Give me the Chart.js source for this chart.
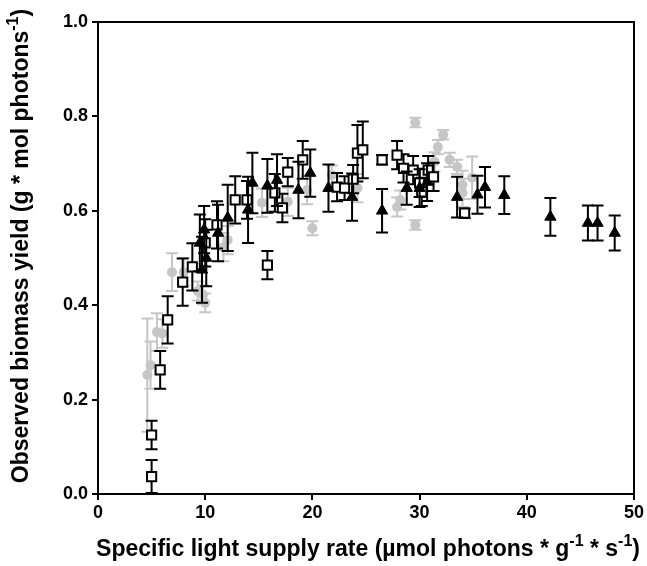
<!DOCTYPE html>
<html>
<head>
<meta charset="utf-8">
<script src="https://cdn.jsdelivr.net/npm/chart.js@4"></script>
<style>
  html, body { margin: 0; padding: 0; background: #fff; }
  #wrap { width: 647px; height: 566px; }
</style>
</head>
<body>
<div id="wrap"><canvas id="yieldChart" width="647" height="566"></canvas></div>
<script>
// black triangles
var triX   = [9.5, 9.7, 9.9, 10.1, 11.2, 12.1, 14.0, 14.4, 15.8, 16.7, 18.7, 19.8, 21.5, 23.7, 26.5, 28.8, 30.0, 30.7, 33.5, 35.4, 36.1, 37.9, 42.2, 45.7, 46.6, 48.2];
var triY   = [0.532, 0.475, 0.56, 0.50, 0.553, 0.585, 0.602, 0.659, 0.653, 0.665, 0.644, 0.68, 0.648, 0.629, 0.60, 0.648, 0.648, 0.661, 0.629, 0.634, 0.65, 0.633, 0.587, 0.574, 0.574, 0.553];
var triErr = [0.06, 0.07, 0.05, 0.06, 0.06, 0.07, 0.07, 0.064, 0.057, 0.055, 0.06, 0.05, 0.05, 0.05, 0.046, 0.035, 0.04, 0.04, 0.043, 0.04, 0.043, 0.04, 0.04, 0.037, 0.037, 0.037];

// open squares
var sqX   = [5.0, 5.0, 5.8, 6.5, 7.9, 8.8, 10.0, 11.1, 12.8, 13.9, 15.8, 16.5, 17.2, 17.7, 19.1, 22.3, 23.0, 23.8, 24.2, 24.7, 26.5, 27.9, 28.5, 29.4, 30.0, 30.2, 30.8, 31.3, 34.2];
var sqY   = [0.037, 0.125, 0.263, 0.369, 0.449, 0.481, 0.532, 0.57, 0.623, 0.623, 0.485, 0.638, 0.606, 0.682, 0.708, 0.65, 0.648, 0.667, 0.722, 0.729, 0.708, 0.718, 0.69, 0.686, 0.659, 0.64, 0.686, 0.672, 0.595];
var sqErr = [0.035, 0.03, 0.04, 0.05, 0.05, 0.05, 0.05, 0.05, 0.05, 0.04, 0.03, 0.04, 0.03, 0.03, 0.04, 0.03, 0.025, 0.03, 0.06, 0.06, 0.01, 0.03, 0.03, 0.03, 0.03, 0.03, 0.03, 0.03, 0.01];

// grey circles
var grayX   = [4.6, 4.9, 5.5, 6.0, 6.9, 8.0, 9.3, 9.8, 10.0, 11.7, 12.1, 15.3, 17.7, 19.5, 20.0, 21.8, 24.2, 27.9, 28.2, 29.6, 29.6, 31.4, 31.7, 32.2, 32.8, 33.5, 34.0, 34.0, 34.9];
var grayY   = [0.252, 0.273, 0.343, 0.34, 0.47, 0.47, 0.43, 0.422, 0.405, 0.523, 0.538, 0.617, 0.619, 0.644, 0.563, 0.676, 0.648, 0.608, 0.623, 0.57, 0.787, 0.704, 0.735, 0.761, 0.708, 0.693, 0.638, 0.655, 0.67];
var grayErr = [0.12, 0.05, 0.04, 0.03, 0.04, 0.03, 0.02, 0.02, 0.02, 0.03, 0.03, 0.03, 0.03, 0.03, 0.015, 0.02, 0.03, 0.02, 0.02, 0.01, 0.01, 0.02, 0.015, 0.01, 0.015, 0.015, 0.03, 0.03, 0.045];

var xTicks = [0, 10, 20, 30, 40, 50];
var yTicks = [0.0, 0.2, 0.4, 0.6, 0.8, 1.0];

function points(xs, ys) {
  return xs.map(function (x, i) { return { x: x, y: ys[i] }; });
}

var errors = [triErr, sqErr, grayErr];
var barColors = ['#000000', '#000000', '#c6c6c6'];
var fontName = '"Liberation Sans", Arial, sans-serif';

// error bars, drawn just before each dataset's markers
var errorBars = {
  id: 'errorBars',
  beforeDatasetDraw: function (chart, args) {
    var i = args.index;
    var ds = chart.data.datasets[i];
    var yScale = chart.scales.y;
    var ctx = chart.ctx;
    ctx.save();
    ctx.strokeStyle = barColors[i];
    ctx.lineWidth = 2;
    args.meta.data.forEach(function (pt, j) {
      var v = ds.data[j].y, e = errors[i][j];
      var top = yScale.getPixelForValue(v + e);
      var bot = yScale.getPixelForValue(v - e);
      ctx.beginPath();
      ctx.moveTo(pt.x, top); ctx.lineTo(pt.x, bot);
      ctx.moveTo(pt.x - 6, top); ctx.lineTo(pt.x + 6, top);
      ctx.moveTo(pt.x - 6, bot); ctx.lineTo(pt.x + 6, bot);
      ctx.stroke();
    });
    ctx.restore();
  }
};

// text with superscripts: parts = [[text, isSup], ...]
function drawRich(ctx, parts, cx, cy, size) {
  var supSize = Math.round(size * 0.68);
  var w = 0;
  parts.forEach(function (p) {
    ctx.font = 'bold ' + (p[1] ? supSize : size) + 'px ' + fontName;
    w += ctx.measureText(p[0]).width;
  });
  var x = cx - w / 2;
  ctx.textBaseline = 'middle';
  ctx.textAlign = 'left';
  parts.forEach(function (p) {
    ctx.font = 'bold ' + (p[1] ? supSize : size) + 'px ' + fontName;
    ctx.fillText(p[0], x, p[1] ? cy - size * 0.38 : cy);
    x += ctx.measureText(p[0]).width;
  });
}

var frameAndTitles = {
  id: 'frameAndTitles',
  beforeDatasetsDraw: function (chart) {
    var a = chart.chartArea, ctx = chart.ctx;
    ctx.save();
    ctx.strokeStyle = '#000';
    ctx.lineWidth = 2;
    ctx.strokeRect(a.left, a.top, a.right - a.left, a.bottom - a.top);
    ctx.restore();
  },
  afterDraw: function (chart) {
    var ctx = chart.ctx;
    ctx.save();
    ctx.fillStyle = '#000';
    drawRich(ctx, [['Specific light supply rate (\u00b5mol photons * g', false], ['-1', true], [' * s', false], ['-1', true], [')', false]],
      368, 550, 23);
    ctx.translate(22, 246);
    ctx.rotate(-Math.PI / 2);
    drawRich(ctx, [['Observed biomass yield (g * mol photons', false], ['-1', true], [')', false]], 0, 0, 23);
    ctx.restore();
  }
};

var tickFont = { family: fontName, size: 18, weight: 'bold' };

var chartYield = document.getElementById('yieldChart').getContext('2d');
var scatterChart = new Chart(chartYield, {
  type: 'scatter',
  data: {
    datasets: [{
        label: 'triangles',
        data: points(triX, triY),
        pointStyle: 'triangle',
        radius: 6.5,
        backgroundColor: '#000000',
        borderColor: '#000000',
        borderWidth: 1
      },
      {
        label: 'squares',
        data: points(sqX, sqY),
        pointStyle: 'rect',
        radius: 6.5,
        backgroundColor: '#ffffff',
        borderColor: '#000000',
        borderWidth: 2
      },
      {
        label: 'circles',
        data: points(grayX, grayY),
        pointStyle: 'circle',
        radius: 5,
        backgroundColor: '#c6c6c6',
        borderColor: '#c6c6c6',
        borderWidth: 0
      }
    ]
  },
  options: {
    responsive: false,
    animation: false,
    layout: { padding: { top: 22, right: 13, left: 0, bottom: 0 } },
    plugins: { legend: { display: false }, tooltip: { enabled: false } },
    scales: {
      x: {
        type: 'linear',
        min: 0,
        max: 50,
        afterFit: function (s) { s.height = 72; },
        afterBuildTicks: function (s) { s.ticks = xTicks.map(function (v) { return { value: v }; }); },
        ticks: { color: '#000', font: tickFont, padding: 2, maxRotation: 0 },
        grid: { drawOnChartArea: false, tickLength: 6, color: '#000', lineWidth: 2 },
        border: { display: true, color: '#000', width: 2 }
      },
      y: {
        type: 'linear',
        min: 0,
        max: 1,
        afterFit: function (s) { s.width = 98; },
        afterBuildTicks: function (s) { s.ticks = yTicks.map(function (v) { return { value: v }; }); },
        ticks: {
          color: '#000', font: tickFont, padding: 4,
          callback: function (v) { return v.toFixed(1); }
        },
        grid: { drawOnChartArea: false, tickLength: 6, color: '#000', lineWidth: 2 },
        border: { display: true, color: '#000', width: 2 }
      }
    }
  },
  plugins: [errorBars, frameAndTitles]
});
</script>
</body>
</html>
